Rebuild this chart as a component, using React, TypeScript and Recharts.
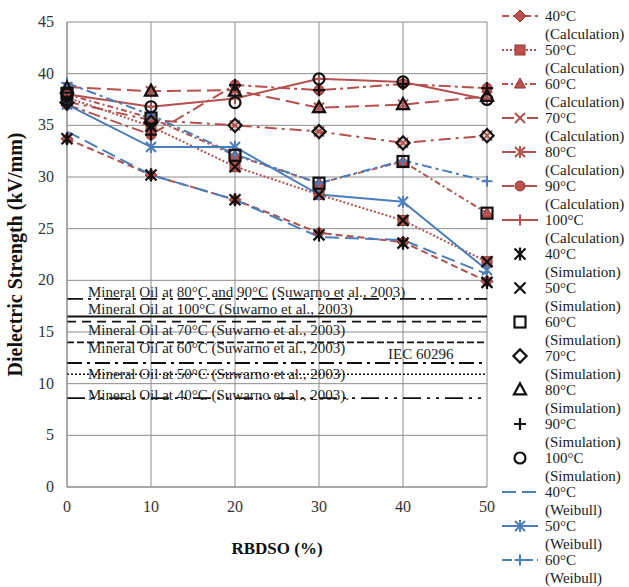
import React from 'react';
import { ComposedChart, Line, XAxis, YAxis, CartesianGrid, ReferenceLine, Legend } from 'recharts';

const FONT = '"Liberation Serif", "Times New Roman", serif';

// ---------- data ----------
const rbdso = [0, 10, 20, 30, 40, 50];
const xTicks = [0, 10, 20, 30, 40, 50];
const yTicks = [0, 5, 10, 15, 20, 25, 30, 35, 40, 45];

const calc40 = [33.7, 30.2, 27.8, 24.6, 23.7, 19.9];
const calc50 = [37.7, 34.9, 31.0, 28.3, 25.8, 21.8];
const calc60 = [38.0, 35.7, 32.1, 29.4, 31.5, 26.5];
const calc70 = [37.3, 35.5, 35.0, 34.4, 33.3, 34.0];
const calc80 = [38.7, 38.3, 38.4, 36.7, 37.0, 37.8];
const calc90 = [37.0, 34.1, 38.9, 38.4, 39.0, 38.6];
const calc100 = [38.0, 36.8, 37.6, 39.5, 39.2, 37.5];

const sim40 = [33.7, 30.2, 27.8, 24.4, 23.6, 19.8];
const sim50 = [37.5, 34.9, 31.0, 28.3, 25.8, 21.8];
const sim60 = [38.1, 35.7, 32.1, 29.4, 31.5, 26.5];
const sim70 = [37.2, 35.3, 35.0, 34.4, 33.3, 34.0];
const sim80 = [38.6, 38.3, 38.3, 36.7, 37.0, 37.8];
const sim90 = [37.0, 34.1, 38.9, 38.4, 39.0, 38.6];
const sim100 = [38.0, 36.8, 37.2, 39.5, 39.2, 37.5];

const weib40 = [34.4, 30.2, 27.8, 24.2, 23.9, 20.6];
const weib50 = [37.0, 32.9, 32.9, 28.3, 27.6, 21.0];
const weib60 = [39.1, 36.0, 32.2, 29.4, 31.6, 29.6];

const refValues = [18.2, 16.5, 16.0, 14.0, 12.0, 10.9, 8.6];
const refLabels = [
  'Mineral Oil at 80°C and 90°C (Suwarno et al., 2003)',
  'Mineral Oil at 100°C (Suwarno et al., 2003)',
  'Mineral Oil at 70°C (Suwarno et al., 2003)',
  'Mineral Oil at 60°C (Suwarno et al., 2003)',
  'IEC 60296',
  'Mineral Oil at 50°C (Suwarno et al., 2003)',
  'Mineral Oil at 40°C (Suwarno et al., 2003).',
];

// ---------- styles ----------
const RED = '#B4504D';
const RED_FILL = '#C0504D';
const RED_EDGE = '#8A3633';
const BLUE = '#4A7EBB';
const BLACK = '#111111';
const GRID = '#8C8C8C';

type Kind = 'diamond' | 'square' | 'triangle' | 'x' | 'star' | 'circle' | 'plus' | 'none';

function Marker({ kind, cx, cy, s, fill, stroke, sw }: any) {
  if (cx == null || cy == null) return null;
  switch (kind as Kind) {
    case 'diamond':
      return <path d={`M${cx},${cy - s * 1.2} L${cx + s * 1.2},${cy} L${cx},${cy + s * 1.2} L${cx - s * 1.2},${cy} Z`} fill={fill} stroke={stroke} strokeWidth={sw} />;
    case 'square':
      return <rect x={cx - s} y={cy - s} width={2 * s} height={2 * s} fill={fill} stroke={stroke} strokeWidth={sw} />;
    case 'triangle':
      return <path d={`M${cx},${cy - s * 1.2} L${cx + s * 1.1},${cy + s * 0.8} L${cx - s * 1.1},${cy + s * 0.8} Z`} fill={fill} stroke={stroke} strokeWidth={sw} />;
    case 'x':
      return <path d={`M${cx - s},${cy - s} L${cx + s},${cy + s} M${cx + s},${cy - s} L${cx - s},${cy + s}`} fill="none" stroke={stroke} strokeWidth={sw} />;
    case 'star':
      return <path d={`M${cx - s},${cy - s} L${cx + s},${cy + s} M${cx + s},${cy - s} L${cx - s},${cy + s} M${cx},${cy - s * 1.2} L${cx},${cy + s * 1.2}`} fill="none" stroke={stroke} strokeWidth={sw} />;
    case 'circle':
      return <circle cx={cx} cy={cy} r={s} fill={fill} stroke={stroke} strokeWidth={sw} />;
    case 'plus':
      return <path d={`M${cx - s * 1.1},${cy} L${cx + s * 1.1},${cy} M${cx},${cy - s * 1.1} L${cx},${cy + s * 1.1}`} fill="none" stroke={stroke} strokeWidth={sw} />;
    default:
      return null;
  }
}

const calcSeries = [
  { key: 'calc40', values: calc40, name: '40°C', sub: '(Calculation)', stroke: RED, dash: '7 4', marker: 'diamond' },
  { key: 'calc50', values: calc50, name: '50°C', sub: '(Calculation)', stroke: RED, dash: '2 2', marker: 'square' },
  { key: 'calc60', values: calc60, name: '60°C', sub: '(Calculation)', stroke: RED, dash: '6 3 2 3', marker: 'triangle' },
  { key: 'calc70', values: calc70, name: '70°C', sub: '(Calculation)', stroke: RED, dash: '12 5 3 5', marker: 'x' },
  { key: 'calc80', values: calc80, name: '80°C', sub: '(Calculation)', stroke: RED, dash: '14 6', marker: 'star' },
  { key: 'calc90', values: calc90, name: '90°C', sub: '(Calculation)', stroke: RED, dash: '12 4 3 4', marker: 'circle' },
  { key: 'calc100', values: calc100, name: '100°C', sub: '(Calculation)', stroke: RED, dash: undefined, marker: 'plus' },
].map((s) => ({ ...s, mFill: RED_FILL, mStroke: ['x', 'star', 'plus'].includes(s.marker) ? RED : RED_EDGE, mSw: ['x', 'star', 'plus'].includes(s.marker) ? 2 : 1, size: 5, line: true }));

const simSeries = [
  { key: 'sim40', values: sim40, name: '40°C', marker: 'star' },
  { key: 'sim50', values: sim50, name: '50°C', marker: 'x' },
  { key: 'sim60', values: sim60, name: '60°C', marker: 'square' },
  { key: 'sim70', values: sim70, name: '70°C', marker: 'diamond' },
  { key: 'sim80', values: sim80, name: '80°C', marker: 'triangle' },
  { key: 'sim90', values: sim90, name: '90°C', marker: 'plus' },
  { key: 'sim100', values: sim100, name: '100°C', marker: 'circle' },
].map((s) => ({ ...s, sub: '(Simulation)', stroke: 'none', dash: undefined, mFill: 'none', mStroke: BLACK, mSw: 2.2, size: 5.5, line: false }));

const weibSeries = [
  { key: 'weib40', values: weib40, name: '40°C', dash: '14 6', marker: 'none' },
  { key: 'weib50', values: weib50, name: '50°C', dash: undefined, marker: 'star' },
  { key: 'weib60', values: weib60, name: '60°C', dash: '10 4 3 4', marker: 'plus' },
].map((s) => ({ ...s, sub: '(Weibull)', stroke: BLUE, mFill: 'none', mStroke: BLUE, mSw: 2, size: 5, line: true }));

const drawOrder = [...calcSeries, ...weibSeries, ...simSeries];
const legendOrder = [...calcSeries, ...simSeries, ...weibSeries];

const data = rbdso.map((x, i) => {
  const row: any = { x };
  drawOrder.forEach((s) => {
    row[s.key] = s.values[i];
  });
  return row;
});

const refStyles = [
  { dash: '16 5 3 5 3 5', width: 1.8, dx: 21, dy: -2 },
  { dash: undefined, width: 2, dx: 21, dy: -3 },
  { dash: '9 6', width: 1.8, dx: 21, dy: 13 },
  { dash: '7 3', width: 1.8, dx: 21, dy: 11 },
  { dash: '15 5 3 5', width: 1.8, dx: 321, dy: -4 },
  { dash: '2 2', width: 1.5, dx: 21, dy: 5 },
  { dash: '18 6 3 6 3 6', width: 1.8, dx: 21, dy: 2 },
];

const XTick = (p: any) => (
  <text x={p.x} y={p.y + 12} textAnchor="middle" fontSize={16} fontFamily={FONT} fill="#333">
    {p.payload.value}
  </text>
);

const YTick = (p: any) => (
  <text x={p.x} y={p.y + 5} textAnchor="end" fontSize={16} fontFamily={FONT} fill="#333">
    {p.payload.value}
  </text>
);

const renderLegend = () => (
  <svg width={134} height={587} style={{ display: 'block' }}>
    {legendOrder.map((s: any, i: number) => {
      const cy = 16 + 34 * i;
      return (
        <g key={s.key}>
          {s.line && (
            <line x1={7} x2={43} y1={cy} y2={cy} stroke={s.stroke} strokeWidth={2} strokeDasharray={s.dash} />
          )}
          <Marker kind={s.marker} cx={25} cy={cy} s={s.size} fill={s.mFill} stroke={s.mStroke} sw={s.mSw} />
          <text x={50} y={cy + 5} fontSize={15} fontFamily={FONT} fill="#1a1a1a">{s.name}</text>
          <text x={50} y={cy + 23} fontSize={15} fontFamily={FONT} fill="#1a1a1a">{s.sub}</text>
        </g>
      );
    })}
  </svg>
);

export default function App() {
  return (
    <div style={{ position: 'absolute', left: 0, top: 0, width: 629, height: 587, background: '#fff' }}>
      <ComposedChart width={629} height={587} data={data} margin={{ top: 22, right: 142, bottom: 0, left: 0 }}>
        <CartesianGrid stroke={GRID} strokeWidth={1} />
        <XAxis
          dataKey="x"
          type="number"
          domain={[0, 50]}
          ticks={xTicks}
          height={100}
          tickLine={false}
          tickSize={6}
          tickMargin={7}
          axisLine={{ stroke: GRID }}
          tick={<XTick />}
          label={(p: any) => (
            <text x={p.viewBox.x + p.viewBox.width / 2} y={p.viewBox.y + 67} textAnchor="middle" fontSize={17} fontWeight="bold" fontFamily={FONT} fill="#111">
              RBDSO (%)
            </text>
          )}
        />
        <YAxis
          type="number"
          domain={[0, 45]}
          ticks={yTicks}
          width={67}
          tickLine={false}
          tickSize={6}
          tickMargin={7}
          axisLine={{ stroke: GRID }}
          tick={<YTick />}
          label={(p: any) => {
            const cx = 15;
            const cy = p.viewBox.y + p.viewBox.height / 2;
            return (
              <text x={cx} y={cy} transform={`rotate(-90, ${cx}, ${cy})`} textAnchor="middle" dominantBaseline="central" fontSize={20} fontWeight="bold" fontFamily={FONT} fill="#111">
                Dielectric Strength (kV/mm)
              </text>
            );
          }}
        />
        {refValues.map((v, i) => {
          const st = refStyles[i];
          return (
            <ReferenceLine
              key={`ref-${i}`}
              y={v}
              stroke={BLACK}
              strokeWidth={st.width}
              strokeDasharray={st.dash}
              label={(p: any) => (
                <text x={p.viewBox.x + st.dx} y={p.viewBox.y + st.dy} fontSize={15} fontFamily={FONT} fill="#222">
                  {refLabels[i]}
                </text>
              )}
            />
          );
        })}
        {drawOrder.map((s: any) => (
          <Line
            key={s.key}
            dataKey={s.key}
            type="linear"
            stroke={s.stroke}
            strokeWidth={2}
            strokeDasharray={s.dash}
            isAnimationActive={false}
            activeDot={false}
            legendType="none"
            dot={
              s.marker === 'none'
                ? false
                : (p: any) => (
                    <Marker key={`${s.key}-${p.index}`} kind={s.marker} cx={p.cx} cy={p.cy} s={s.size} fill={s.mFill} stroke={s.mStroke} sw={s.mSw} />
                  )
            }
          />
        ))}
        <Legend
          layout="horizontal"
          verticalAlign="middle"
          align="center"
          content={renderLegend}
          wrapperStyle={{ left: 495, top: 0, width: 134, height: 587 }}
        />
      </ComposedChart>
    </div>
  );
}
